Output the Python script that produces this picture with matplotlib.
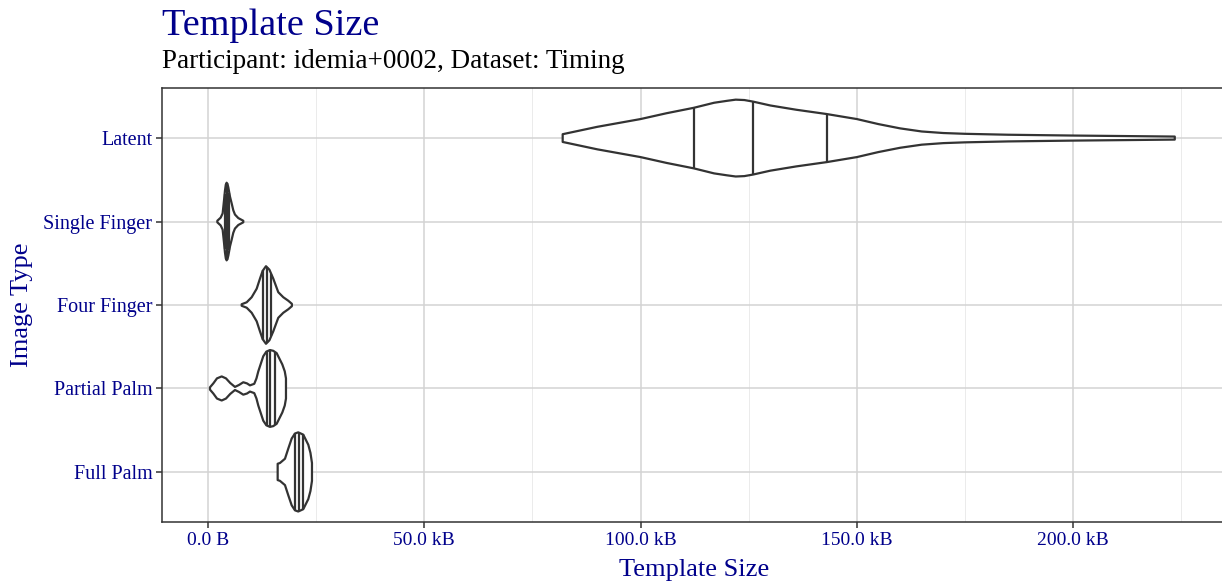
import numpy as np
import matplotlib
matplotlib.use("Agg")
import matplotlib.pyplot as plt
from matplotlib.ticker import MultipleLocator, FuncFormatter

plt.rcParams['font.family'] = ['Liberation Serif', 'DejaVu Serif']

# categories, bottom to top
categories = ['Full Palm', 'Partial Palm', 'Four Finger', 'Single Finger', 'Latent']

# violin outlines: template size (kB) and relative half width
latent_kb = [82.0, 90, 100, 106, 112.3, 117, 120, 122, 124, 126, 130, 136, 143, 150,
             155, 160, 165, 170, 175, 185, 200, 212, 223.5]
latent_w = [0.10, 0.29, 0.49, 0.64, 0.78, 0.91, 0.96, 0.99, 0.98, 0.94, 0.84, 0.73, 0.62,
            0.49, 0.36, 0.25, 0.17, 0.13, 0.11, 0.086, 0.065, 0.052, 0.039]

single_kb = [2.16, 2.93, 3.39, 3.70, 3.93, 4.12, 4.31, 4.50, 4.70, 5.09, 5.47, 5.85, 6.24, 7.0, 8.16]
single_w = [0.02, 0.10, 0.21, 0.54, 0.80, 0.95, 1.0, 0.97, 0.88, 0.64, 0.47, 0.29, 0.18, 0.09, 0.02]

four_kb = [7.79, 8.95, 10.10, 11.26, 12.02, 12.64, 13.41, 14.2, 15.09, 16.25, 17.41, 18.56, 19.4]
four_w = [0.02, 0.07, 0.20, 0.42, 0.68, 0.88, 1.0, 0.91, 0.68, 0.33, 0.20, 0.11, 0.03]

partial_kb = [0.46, 1.23, 2.08, 3.17, 4.16, 5.15, 6.24, 7.17, 8.16, 9.02, 9.71, 10.70, 11.21,
              11.63, 12.78, 13.5, 14.33, 15.1, 15.88, 17.18, 17.75, 18.03]
partial_w = [0.03, 0.13, 0.26, 0.31, 0.26, 0.14, 0.04, 0.09, 0.16, 0.13, 0.08, 0.12, 0.26,
             0.44, 0.83, 0.95, 0.99, 0.97, 0.91, 0.62, 0.44, 0.26]

full_kb = [16.11, 16.64, 17.80, 18.56, 19.35, 20.11, 20.87, 22.03, 23.19, 23.69, 24.04]
full_w = [0.21, 0.23, 0.34, 0.60, 0.86, 0.99, 1.02, 0.96, 0.70, 0.49, 0.23]

# quartiles (25%, 50%, 75%) in kB
latent_q = [112.3, 126.1, 143.0]
single_q = [3.85, 4.35, 4.95]
four_q = [12.8, 13.6, 14.6]
partial_q = [13.6, 14.4, 15.4]
full_q = [20.2, 21.0, 21.9]

profiles = [(full_kb, full_w, full_q), (partial_kb, partial_w, partial_q),
            (four_kb, four_w, four_q), (single_kb, single_w, single_q),
            (latent_kb, latent_w, latent_q)]

navy = '#00008B'
edge = '#333333'
half_scale = 0.465

W, H = 1222, 584
fig = plt.figure(figsize=(W / 100, H / 100), dpi=100)
ax = fig.add_axes([162 / W, 62 / H, 1069 / W, 434 / H])

for i, (xs, ws, qs) in enumerate(profiles):
    y0 = i + 1
    xs = np.array(xs)
    ws = np.array(ws) * half_scale
    px = np.concatenate([xs, xs[::-1]])
    py = np.concatenate([y0 + ws, (y0 - ws)[::-1]])
    ax.fill(px, py, facecolor='white', edgecolor=edge, lw=1.6, joinstyle='round', zorder=3)
    qw = np.interp(qs, xs, ws)
    ax.vlines(qs, y0 - qw, y0 + qw, color=edge, lw=1.6, zorder=4)

ax.set_xlim(-10.63, 236.5)
ax.set_ylim(0.4, 5.6)
ax.set_yticks(range(1, len(categories) + 1))
ax.set_yticklabels(categories)

ax.xaxis.set_major_locator(MultipleLocator(50))
ax.xaxis.set_minor_locator(MultipleLocator(25))
ax.xaxis.set_major_formatter(FuncFormatter(lambda v, p: '0.0 B' if v == 0 else f'{v:.1f} kB'))

ax.set_axisbelow(True)
ax.grid(which='major', color='#d3d3d3', lw=1.1)
ax.grid(which='minor', axis='x', color='#ebebeb', lw=0.7)
ax.tick_params(which='major', length=4, width=1.1, color=edge, labelsize=14.5,
               labelcolor=navy, pad=3)
ax.tick_params(axis='x', which='major', labelsize=14)
ax.tick_params(which='minor', length=0)
for s in ax.spines.values():
    s.set_color(edge)
    s.set_linewidth(1.1)

fig.text(162 / W, 1 - 35 / H, 'Template Size', color=navy, fontsize=27.5, va='baseline')
fig.text(162 / W, 1 - 68 / H, 'Participant: idemia+0002, Dataset: Timing', color='black',
         fontsize=19.5, va='baseline')
fig.text(694 / W, 1 - 576 / H, 'Template Size', color=navy, fontsize=19, ha='center', va='baseline')
fig.text(22 / W, 1 - 305 / H, 'Image Type', color=navy, fontsize=19, rotation=90,
         ha='center', va='center')

fig.savefig('out.png', dpi=100)
